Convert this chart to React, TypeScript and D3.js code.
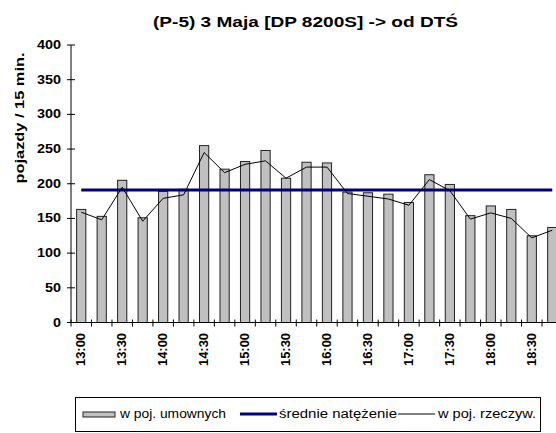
import React from "react";
import * as d3 from "d3";

const categories = [
  "13:00", "13:15", "13:30", "13:45", "14:00", "14:15", "14:30", "14:45",
  "15:00", "15:15", "15:30", "15:45", "16:00", "16:15", "16:30", "16:45",
  "17:00", "17:15", "17:30", "17:45", "18:00", "18:15", "18:30", "18:45",
];
const tickLabels = ["13:00", "13:30", "14:00", "14:30", "15:00", "15:30", "16:00", "16:30", "17:00", "17:30", "18:00", "18:30"];
const umowne = [163, 153, 205, 151, 189, 192, 255, 221, 232, 248, 208, 231, 230, 188, 187, 185, 173, 213, 199, 154, 168, 163, 125, 137];
const rzeczywiste = [159, 148, 195, 146, 179, 184, 245, 216, 228, 233, 208, 224, 224, 186, 182, 178, 169, 206, 190, 149, 158, 150, 122, 133];
const srednia = 191;
const yTicks = [0, 50, 100, 150, 200, 250, 300, 350, 400];

const title = "(P-5) 3 Maja [DP 8200S] -> od DTŚ";
const yTitle = "pojazdy / 15 min.";
const legendLabels = ["w poj. umownych", "średnie natężenie", "w poj. rzeczyw."];

const FONT = "'Liberation Sans', Arial, sans-serif";

export default function App() {
  const W = 556, H = 433;
  const left = 71, right = 562.5, top = 45, bottom = 322.5;
  const x = d3.scaleBand<string>().domain(categories).range([left, right]).padding(0);
  const y = d3.scaleLinear().domain([0, 400]).range([bottom, top]);
  const bw = x.bandwidth();
  const barW = bw * 0.45;
  const cx = (c: string) => (x(c) as number) + bw / 2;

  const line = d3.line<number>()
    .x((_, i) => cx(categories[i]))
    .y((d) => y(d));

  return (
    <svg width={W} height={H} style={{ position: "absolute", left: 0, top: 0, background: "#fff" }}
      fontFamily={FONT}>
      <rect x={0} y={0} width={W} height={H} fill="#fff" />
      <text x={153} y={27} fontSize={14} fontWeight="bold" textLength={305} lengthAdjust="spacingAndGlyphs">{title}</text>

      {/* bars */}
      {umowne.map((v, i) => (
        <rect key={i} x={cx(categories[i]) - barW / 2} y={y(v)} width={barW} height={bottom - y(v)}
          fill="#C0C0C0" stroke="#222" strokeWidth={1} />
      ))}

      {/* average line */}
      <line x1={cx(categories[0])} x2={cx(categories[categories.length - 1])} y1={y(srednia)} y2={y(srednia)}
        stroke="#000080" strokeWidth={3} />

      {/* real vehicles line */}
      <path d={line(rzeczywiste) || ""} fill="none" stroke="#000" strokeWidth={1} />

      {/* y axis */}
      <line x1={left} x2={left} y1={top} y2={bottom} stroke="#000" />
      {yTicks.map((t) => (
        <g key={t}>
          <line x1={left - 4} x2={left + 4} y1={y(t)} y2={y(t)} stroke="#000" />
          <text transform={`translate(61,${y(t) + 4}) scale(1.2,1)`} textAnchor="end" fontSize={12} fontWeight="bold">{t}</text>
        </g>
      ))}
      <text transform={`translate(24,118) rotate(-90)`} textAnchor="middle" fontSize={13} fontWeight="bold"
        textLength={131} lengthAdjust="spacingAndGlyphs">{yTitle}</text>

      {/* x axis */}
      <line x1={left} x2={W} y1={bottom} y2={bottom} stroke="#000" />
      {categories.map((c, i) => (
        <line key={c} x1={(x(c) as number)} x2={(x(c) as number)} y1={bottom - 3} y2={bottom + 4} stroke="#000" />
      ))}
      {tickLabels.map((c) => (
        <text key={c} transform={`translate(${cx(c) + 4},333) rotate(-90)`} textAnchor="end" fontSize={12}
          fontWeight="bold" textLength={33} lengthAdjust="spacingAndGlyphs">{c}</text>
      ))}

      {/* legend */}
      <rect x={75.5} y={397.5} width={465} height={34} fill="#fff" stroke="#000" />
      <rect x={83} y={412} width={32} height={5} fill="#C0C0C0" stroke="#222" />
      <text x={120} y={418} fontSize={12} textLength={106} lengthAdjust="spacingAndGlyphs">{legendLabels[0]}</text>
      <line x1={240} x2={277} y1={414} y2={414} stroke="#000080" strokeWidth={3} />
      <text x={279} y={418} fontSize={12} textLength={118} lengthAdjust="spacingAndGlyphs">{legendLabels[1]}</text>
      <line x1={398} x2={435} y1={414} y2={414} stroke="#000" strokeWidth={1} />
      <text x={438} y={418} fontSize={12} textLength={98} lengthAdjust="spacingAndGlyphs">{legendLabels[2]}</text>
    </svg>
  );
}
